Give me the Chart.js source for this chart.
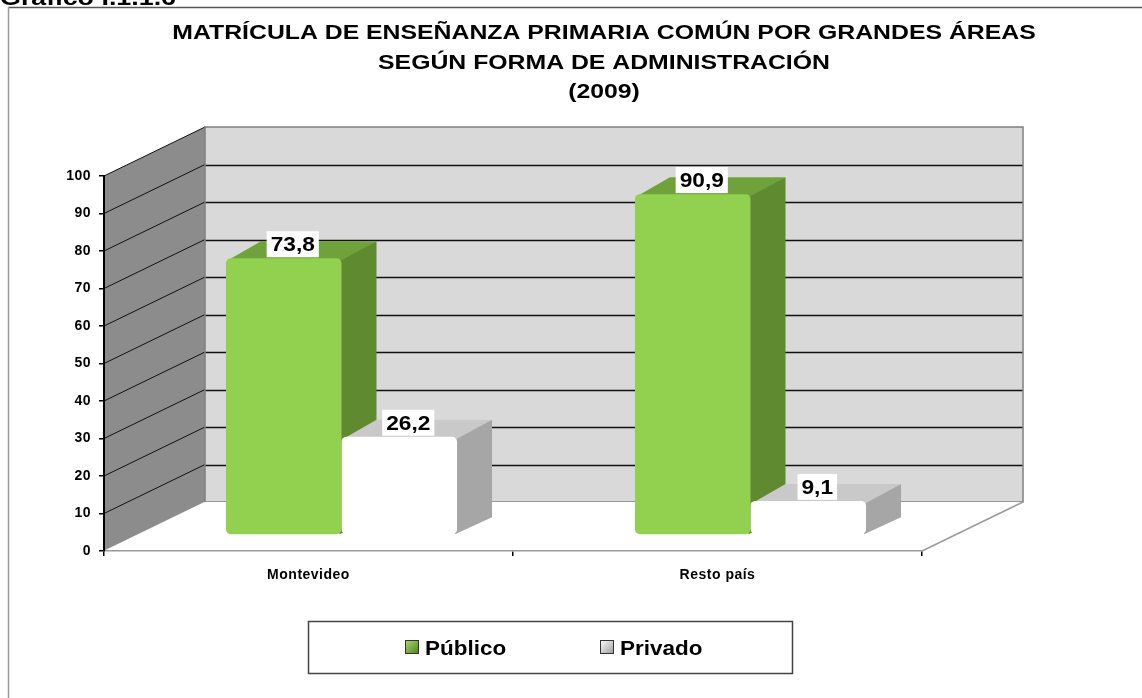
<!DOCTYPE html>
<html>
<head>
<meta charset="utf-8">
<style>
  html, body { margin: 0; padding: 0; background: #ffffff; }
  #wrap { width: 1142px; height: 698px; position: relative; overflow: hidden; }
  canvas { display: block; }
</style>
<script src="https://cdn.jsdelivr.net/npm/chart.js@4.4.1/dist/chart.umd.min.js"></script>
</head>
<body>
<div id="wrap"><canvas id="c" width="1142" height="698"></canvas></div>
<script>
// ---- data ----
const categories = ['Montevideo', 'Resto país'];
const seriesNames = ['Público', 'Privado'];
const publico = [73.8, 90.9];
const privado = [26.2, 9.1];
const yTickValues = [0, 10, 20, 30, 40, 50, 60, 70, 80, 90, 100];
const titleLines = ['MATRÍCULA DE ENSEÑANZA PRIMARIA COMÚN POR GRANDES ÁREAS', 'SEGÚN FORMA DE ADMINISTRACIÓN', '(2009)'];
const headerText = 'Gráfico I.1.1.6';

// ---- style ----
const FONT = '"Liberation Sans", Arial, Helvetica, sans-serif';
const DEPTH = { x: 101, y: -49 };     // full floor depth (front -> back wall)
const BAR_OFF = { x: 33, y: -16 };    // bar front plane offset
const BAR_D = { x: 35, y: -17 };      // bar depth
const faces = [
  { front: '#92d050', side: '#5f8a30', top: '#6fa23b' },
  { front: '#ffffff', side: '#a6a6a6', top: '#c9c9c9' }
];

function fmt(v) { return v.toFixed(1).replace('.', ','); }

function poly(ctx, pts, fill, stroke, lw) {
  ctx.beginPath();
  ctx.moveTo(pts[0][0], pts[0][1]);
  for (let i = 1; i < pts.length; i++) ctx.lineTo(pts[i][0], pts[i][1]);
  ctx.closePath();
  if (fill) { ctx.fillStyle = fill; ctx.fill(); }
  if (stroke) { ctx.strokeStyle = stroke; ctx.lineWidth = lw || 1; ctx.stroke(); }
}

// text stretched horizontally by sx; align 'center' or 'left'
function stretchText(ctx, text, x, y, sx, align) {
  ctx.save();
  ctx.letterSpacing = '0px';
  ctx.textAlign = align;
  ctx.translate(x, y);
  ctx.scale(sx, 1);
  ctx.fillText(text, 0, 0);
  ctx.restore();
}

const threeD = {
  id: 'threeD',
  beforeDraw(chart) {
    const ctx = chart.ctx, ca = chart.chartArea, ys = chart.scales.y;
    const L = ca.left, R = ca.right;
    const y0 = ys.getPixelForValue(0), y100 = ys.getPixelForValue(100);
    ctx.save();
    ctx.fillStyle = '#ffffff';
    ctx.fillRect(0, 0, chart.width, chart.height);

    // header (cut by page top)
    ctx.fillStyle = '#000';
    ctx.font = 'bold 22px ' + FONT;
    ctx.textBaseline = 'alphabetic';
    stretchText(ctx, headerText, 0, 5, 1.22, 'left');

    // outer frame
    ctx.lineWidth = 1.5;
    ctx.strokeStyle = '#555';
    ctx.beginPath(); ctx.moveTo(8, 7.5); ctx.lineTo(chart.width, 7.5); ctx.stroke();
    ctx.strokeStyle = '#9a9a9a';
    ctx.beginPath(); ctx.moveTo(8.5, 7); ctx.lineTo(8.5, chart.height); ctx.stroke();

    // title
    ctx.fillStyle = '#000';
    ctx.font = 'bold 20px ' + FONT;
    ctx.textBaseline = 'middle';
    const tY = [33, 63, 92];
    titleLines.forEach((t, i) => stretchText(ctx, t, 604, tY[i], 1.24, 'center'));

    // side wall
    poly(ctx, [[L, y100], [L + DEPTH.x, y100 + DEPTH.y], [L + DEPTH.x, y0 + DEPTH.y], [L, y0]], '#8c8c8c');
    ctx.strokeStyle = '#111';
    ctx.lineWidth = 1;
    yTickValues.forEach(v => {
      if (v === 0) return;
      const y = ys.getPixelForValue(v);
      ctx.beginPath(); ctx.moveTo(L, y); ctx.lineTo(L + DEPTH.x, y + DEPTH.y); ctx.stroke();
    });
    ctx.strokeStyle = '#d0d0d0';
    ctx.beginPath(); ctx.moveTo(L, y0); ctx.lineTo(L + DEPTH.x, y0 + DEPTH.y); ctx.stroke();

    // back wall
    const bx0 = L + DEPTH.x, bx1 = R + DEPTH.x;
    poly(ctx, [[bx0, y100 + DEPTH.y], [bx1, y100 + DEPTH.y], [bx1, y0 + DEPTH.y], [bx0, y0 + DEPTH.y]], '#d9d9d9');
    ctx.strokeStyle = '#111';
    ctx.lineWidth = 1.5;
    yTickValues.forEach(v => {
      if (v === 0 || v === 100) return;
      const y = Math.round(ys.getPixelForValue(v) + DEPTH.y) + 0.5;
      ctx.beginPath(); ctx.moveTo(bx0, y); ctx.lineTo(bx1, y); ctx.stroke();
    });
    poly(ctx, [[bx0, y100 + DEPTH.y], [bx1, y100 + DEPTH.y], [bx1, y0 + DEPTH.y], [bx0, y0 + DEPTH.y]], null, '#7f7f7f', 1.5);

    // floor
    poly(ctx, [[L, y0], [L + DEPTH.x, y0 + DEPTH.y], [R + DEPTH.x, y0 + DEPTH.y], [R, y0]], '#ffffff');
    ctx.strokeStyle = '#9a9a9a';
    ctx.lineWidth = 1.5;
    ctx.beginPath(); ctx.moveTo(R, y0); ctx.lineTo(R + DEPTH.x, y0 + DEPTH.y); ctx.stroke();
    ctx.restore();
    // slight spacing for axis tick labels drawn by Chart.js
    ctx.letterSpacing = '0.5px';
  },
  beforeDatasetsDraw(chart) {
    const ctx = chart.ctx;
    ctx.save();
    categories.forEach((c, i) => {
      chart.data.datasets.forEach((ds, d) => {
        const el = chart.getDatasetMeta(d).data[i];
        const w = el.width;
        const x0 = el.x - w / 2 + BAR_OFF.x, x1 = el.x + w / 2 + BAR_OFF.x;
        const yt = el.y + BAR_OFF.y, yb = el.base + BAR_OFF.y;
        const f = faces[d];
        poly(ctx, [[x1 - 2, yt], [x1 + BAR_D.x, yt + BAR_D.y], [x1 + BAR_D.x, yb + BAR_D.y], [x1 - 2, yb]], f.side);
        poly(ctx, [[x0 + 2, yt + 2], [x0 + BAR_D.x, yt + BAR_D.y], [x1 + BAR_D.x, yt + BAR_D.y], [x1, yt + 2]], f.top);
      });
    });
    ctx.restore();
    ctx.save();
    ctx.translate(BAR_OFF.x, BAR_OFF.y);
  },
  afterDatasetsDraw(chart) {
    const ctx = chart.ctx;
    ctx.restore();
    ctx.save();
    ctx.letterSpacing = '0px';
    ctx.font = 'bold 21px ' + FONT;
    ctx.textBaseline = 'middle';
    const sx = 1.08;
    chart.data.datasets.forEach((ds, d) => {
      chart.getDatasetMeta(d).data.forEach((el, i) => {
        const t = fmt(ds.data[i]);
        const cx = el.x + BAR_OFF.x + 9;
        const cy = el.y + BAR_OFF.y + BAR_D.y + 3;
        const tw = ctx.measureText(t).width * sx;
        ctx.fillStyle = '#ffffff';
        ctx.fillRect(cx - tw / 2 - 4, cy - 13, tw + 8, 26);
        ctx.fillStyle = '#000';
        stretchText(ctx, t, cx, cy + 1, sx, 'center');
      });
    });
    ctx.restore();
  },
  afterDraw(chart) {
    const ctx = chart.ctx;
    ctx.save();
    ctx.letterSpacing = '0px';
    ctx.strokeStyle = '#444';
    ctx.lineWidth = 1.5;
    ctx.strokeRect(308.5, 621.5, 484, 52);
    const items = [{ x: 405, name: seriesNames[0], d: 0 }, { x: 600, name: seriesNames[1], d: 1 }];
    items.forEach(it => {
      const sy = 640;
      const g = ctx.createLinearGradient(it.x, sy, it.x + 14, sy + 14);
      if (it.d === 0) { g.addColorStop(0, '#a9e06a'); g.addColorStop(1, '#4f7a22'); }
      else { g.addColorStop(0, '#ffffff'); g.addColorStop(1, '#9a9a9a'); }
      ctx.fillStyle = g;
      ctx.fillRect(it.x, sy, 14, 14);
      ctx.strokeStyle = '#333';
      ctx.lineWidth = 1;
      ctx.strokeRect(it.x + 0.5, sy + 0.5, 13, 13);
      ctx.fillStyle = '#000';
      ctx.font = 'bold 21px ' + FONT;
      ctx.textBaseline = 'middle';
      stretchText(ctx, it.name, it.x + 20, 649, 1.07, 'left');
    });
    ctx.restore();
  }
};

new Chart(document.getElementById('c'), {
  type: 'bar',
  data: {
    labels: categories,
    datasets: [
      { label: seriesNames[0], data: publico, backgroundColor: faces[0].front, borderWidth: 0, borderRadius: 5, borderSkipped: false, categoryPercentage: 0.565, barPercentage: 1 },
      { label: seriesNames[1], data: privado, backgroundColor: faces[1].front, borderWidth: 0, borderRadius: 5, borderSkipped: false, categoryPercentage: 0.565, barPercentage: 1 }
    ]
  },
  options: {
    responsive: false,
    animation: false,
    events: [],
    layout: { padding: { left: 0, right: 220, top: 176, bottom: 0 } },
    plugins: { legend: { display: false }, tooltip: { enabled: false }, title: { display: false } },
    scales: {
      x: {
        grid: { drawOnChartArea: false, offset: true, tickLength: 5, color: '#000', lineWidth: 1.5 },
        border: { display: true, color: '#9a9a9a', width: 1.5 },
        ticks: { color: '#000', font: { family: FONT, size: 14, weight: 'bold' }, padding: 11 },
        afterFit: s => { s.height = 147; }
      },
      y: {
        min: 0, max: 100,
        afterBuildTicks: s => { s.ticks = yTickValues.map(v => ({ value: v })); },
        grid: { drawOnChartArea: false, tickLength: 5, color: '#000', lineWidth: 1.5 },
        border: { display: true, color: '#000', width: 2 },
        ticks: { color: '#000', font: { family: FONT, size: 14, weight: 'bold' }, padding: 8 },
        afterFit: s => { s.width = 104; }
      }
    }
  },
  plugins: [threeD]
});
</script>
</body>
</html>
